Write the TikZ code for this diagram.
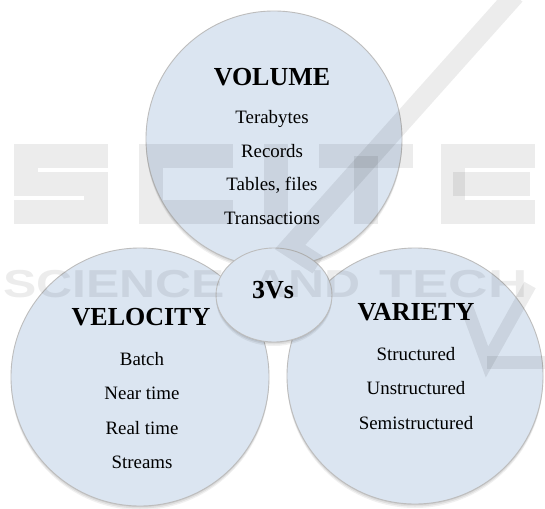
\documentclass[tikz,border=0pt]{standalone}
\usepackage{fontspec}
\setmainfont{Liberation Serif}
\newfontfamily\wmfont{Liberation Sans}
\usetikzlibrary{shapes.geometric}
\definecolor{cfill}{HTML}{DBE5F1}
\definecolor{cline}{HTML}{BDBDBD}
\begin{document}
\begin{tikzpicture}[x=1pt,y=-1pt,
  shd/.style={
    preaction={fill=black,opacity=0.07,transform canvas={yshift=-1pt}},
    preaction={fill=black,opacity=0.07,transform canvas={yshift=-2.5pt}},
    preaction={fill=black,opacity=0.06,transform canvas={yshift=-4pt}}},
  bubble/.style={circle,fill=cfill,draw=cline,line width=0.9pt,inner sep=0pt,shd},
  ttl/.style={font=\fontsize{26}{26}\selectfont\bfseries,anchor=base,inner sep=0pt},
  itm/.style={font=\fontsize{18.9}{18.9}\selectfont,anchor=base,inner sep=0pt},
  wmline/.style={draw=black,opacity=0.075,line width=24pt},
  wmtext/.style={font=\wmfont\bfseries\fontsize{39}{39}\selectfont,text=black,opacity=0.075,anchor=base west,inner sep=0pt}]
\useasboundingbox (0,0) rectangle (545,508);
\fill[white] (0,0) rectangle (545,508);

% circles
\node[bubble,minimum size=256pt] (vol) at (274,139) {};
\node[bubble,minimum size=258pt] (vel) at (140,377) {};
\node[bubble,minimum size=256pt] (var) at (415,376) {};
\node[bubble,ellipse,minimum width=116pt,minimum height=94pt] (c) at (274,295) {};

% watermark
\begin{scope}
\clip (0,0) rectangle (545,508);
\draw[wmline] (108,156) -- (26,156) -- (26,184) -- (96,184) -- (96,212) -- (14,212);
\draw[wmline] (233,156) -- (151,156) -- (151,212) -- (233,212);
\draw[wmline] (276,144) -- (276,224);
\draw[wmline] (319,156) -- (413,156);
\draw[wmline] (366,156) -- (366,224);
\draw[wmline] (535,156) -- (453,156) -- (453,212) -- (535,212);
\draw[wmline] (453,184) -- (530,184);
\draw[wmline,line width=20pt] (515,-5) -- (290,247) -- (318,265);
\draw[wmline,line width=13pt] (466,305) -- (487,362) -- (530,285);
\draw[wmline,line width=13pt] (487,362) -- (550,362);
\node[wmtext] (w1) at (3,297) {\scalebox{1.28}[1]{SCIENCE}};
\node[wmtext] (w2) at (252,297) {\scalebox{1.28}[1]{AND}};
\node[wmtext] (w3) at (379,297) {\scalebox{1.4}[1]{TECH}};
\end{scope}

% texts
\node[ttl] (volt) at (272,85) {VOLUME};
\node[itm] (vo1) at (272,123.5) {Terabytes};
\node[itm] (vo2) at (272,157) {Records};
\node[itm] (vo3) at (272,190.5) {Tables, files};
\node[itm] (vo4) at (272,224) {Transactions};

\node[ttl] (ct) at (273,298) {3Vs};

\node[ttl] (velt) at (141,325) {VELOCITY};
\node[itm] (ve1) at (142,365) {Batch};
\node[itm] (ve2) at (142,399.5) {Near time};
\node[itm] (ve3) at (142,434) {Real time};
\node[itm] (ve4) at (142,468) {Streams};

\node[ttl] (vart) at (416,320) {VARIETY};
\node[itm] (va1) at (416,360) {Structured};
\node[itm] (va2) at (416,394.5) {Unstructured};
\node[itm] (va3) at (416,429) {Semistructured};
\end{tikzpicture}
\end{document}
